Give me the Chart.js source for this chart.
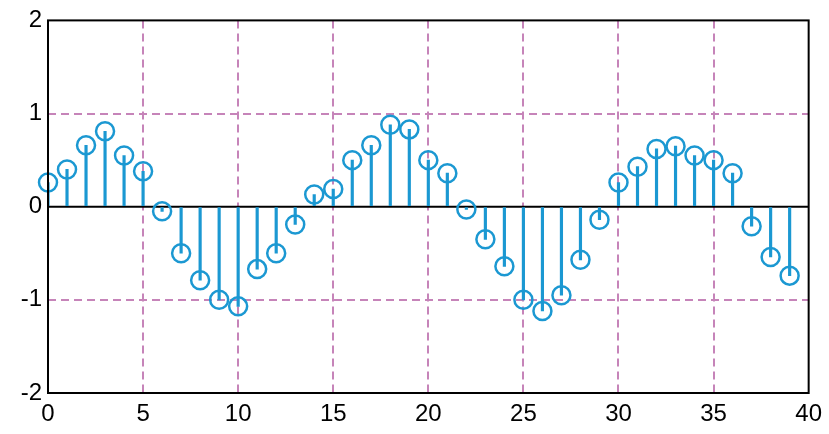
<!DOCTYPE html>
<html>
<head>
<meta charset="utf-8">
<script src="https://cdn.jsdelivr.net/npm/chart.js@4/dist/chart.umd.min.js"></script>
<style>
  html, body { margin: 0; padding: 0; background: #fff; }
  #wrap { width: 829px; height: 434px; }
</style>
</head>
<body>
<div id="wrap"><canvas id="stemChart" width="829" height="434"></canvas></div>
<script>
const sampleIndex = [0, 1, 2, 3, 4, 5, 6, 7, 8, 9, 10, 11, 12, 13, 14, 15, 16, 17, 18, 19,
  20, 21, 22, 23, 24, 25, 26, 27, 28, 29, 30, 31, 32, 33, 34, 35, 36, 37, 38, 39];
const sampleValues = [0.26, 0.40, 0.66, 0.81, 0.55, 0.38, -0.05, -0.50, -0.79, -1.00,
  -1.07, -0.67, -0.50, -0.19, 0.13, 0.19, 0.50, 0.66, 0.88, 0.83,
  0.50, 0.36, -0.03, -0.35, -0.64, -1.00, -1.12, -0.95, -0.57, -0.14,
  0.26, 0.43, 0.62, 0.65, 0.55, 0.50, 0.36, -0.21, -0.54, -0.74];
const xTicks = [0, 5, 10, 15, 20, 25, 30, 35, 40];
const yTicks = [-2, -1, 0, 1, 2];
const baselineX = [0, 40];

const stemColor = '#1b98d2';
const gridColor = '#c684b9';
const none = 'rgba(0,0,0,0)';

const points = sampleIndex.map((n, i) => ({ x: n, y: sampleValues[i] }));

// box around the plot area, like a MATLAB axes
const frame = {
  id: 'frame',
  afterDraw(chart) {
    const { ctx, chartArea: a } = chart;
    ctx.save();
    ctx.strokeStyle = '#000';
    ctx.lineWidth = 2;
    ctx.strokeRect(a.left, a.top, a.right - a.left, a.bottom - a.top);
    ctx.restore();
  }
};

function tickVal(c) {
  return c && c.tick ? c.tick.value : null;
}

new Chart(document.getElementById('stemChart'), {
  type: 'bar',
  data: {
    datasets: [{
      type: 'line',
      data: baselineX.map(x => ({ x, y: 0 })),
      borderColor: '#000',
      borderWidth: 2,
      pointRadius: 0,
      order: 3
    }, {
      type: 'bar',
      data: points,
      backgroundColor: stemColor,
      barThickness: 2.5,
      order: 2
    }, {
      type: 'line',
      data: points,
      showLine: false,
      clip: false,
      pointStyle: 'circle',
      pointRadius: 9,
      pointBorderWidth: 2.5,
      pointBorderColor: stemColor,
      pointBackgroundColor: none,
      order: 1
    }]
  },
  options: {
    responsive: false,
    animation: false,
    layout: { padding: { top: 8, right: 19, bottom: 0, left: 0 } },
    plugins: { legend: { display: false }, tooltip: { enabled: false } },
    scales: {
      x: {
        type: 'linear',
        min: 0,
        max: 40,
        offset: false,
        afterBuildTicks: s => { s.ticks = xTicks.map(v => ({ value: v })); },
        ticks: { color: '#000', font: { family: 'Liberation Sans', size: 24 }, padding: 7 },
        grid: {
          offset: false,
          color: c => {
            const v = tickVal(c);
            return (v === null || v === 0 || v === 40) ? none : gridColor;
          },
          lineWidth: 2,
          drawTicks: false
        },
        border: { display: false, dash: [8, 5] },
        afterFit: s => { s.height = 41; }
      },
      y: {
        min: -2,
        max: 2,
        afterBuildTicks: s => { s.ticks = yTicks.map(v => ({ value: v })); },
        ticks: { color: '#000', font: { family: 'Liberation Sans', size: 24 }, padding: 6 },
        grid: {
          color: c => {
            const v = tickVal(c);
            return (v !== null && Math.abs(v) === 1) ? gridColor : none;
          },
          lineWidth: 2,
          drawTicks: false
        },
        border: { display: false, dash: [8, 5] },
        afterFit: s => { s.width = 48; }
      }
    }
  },
  plugins: [frame]
});
</script>
</body>
</html>
